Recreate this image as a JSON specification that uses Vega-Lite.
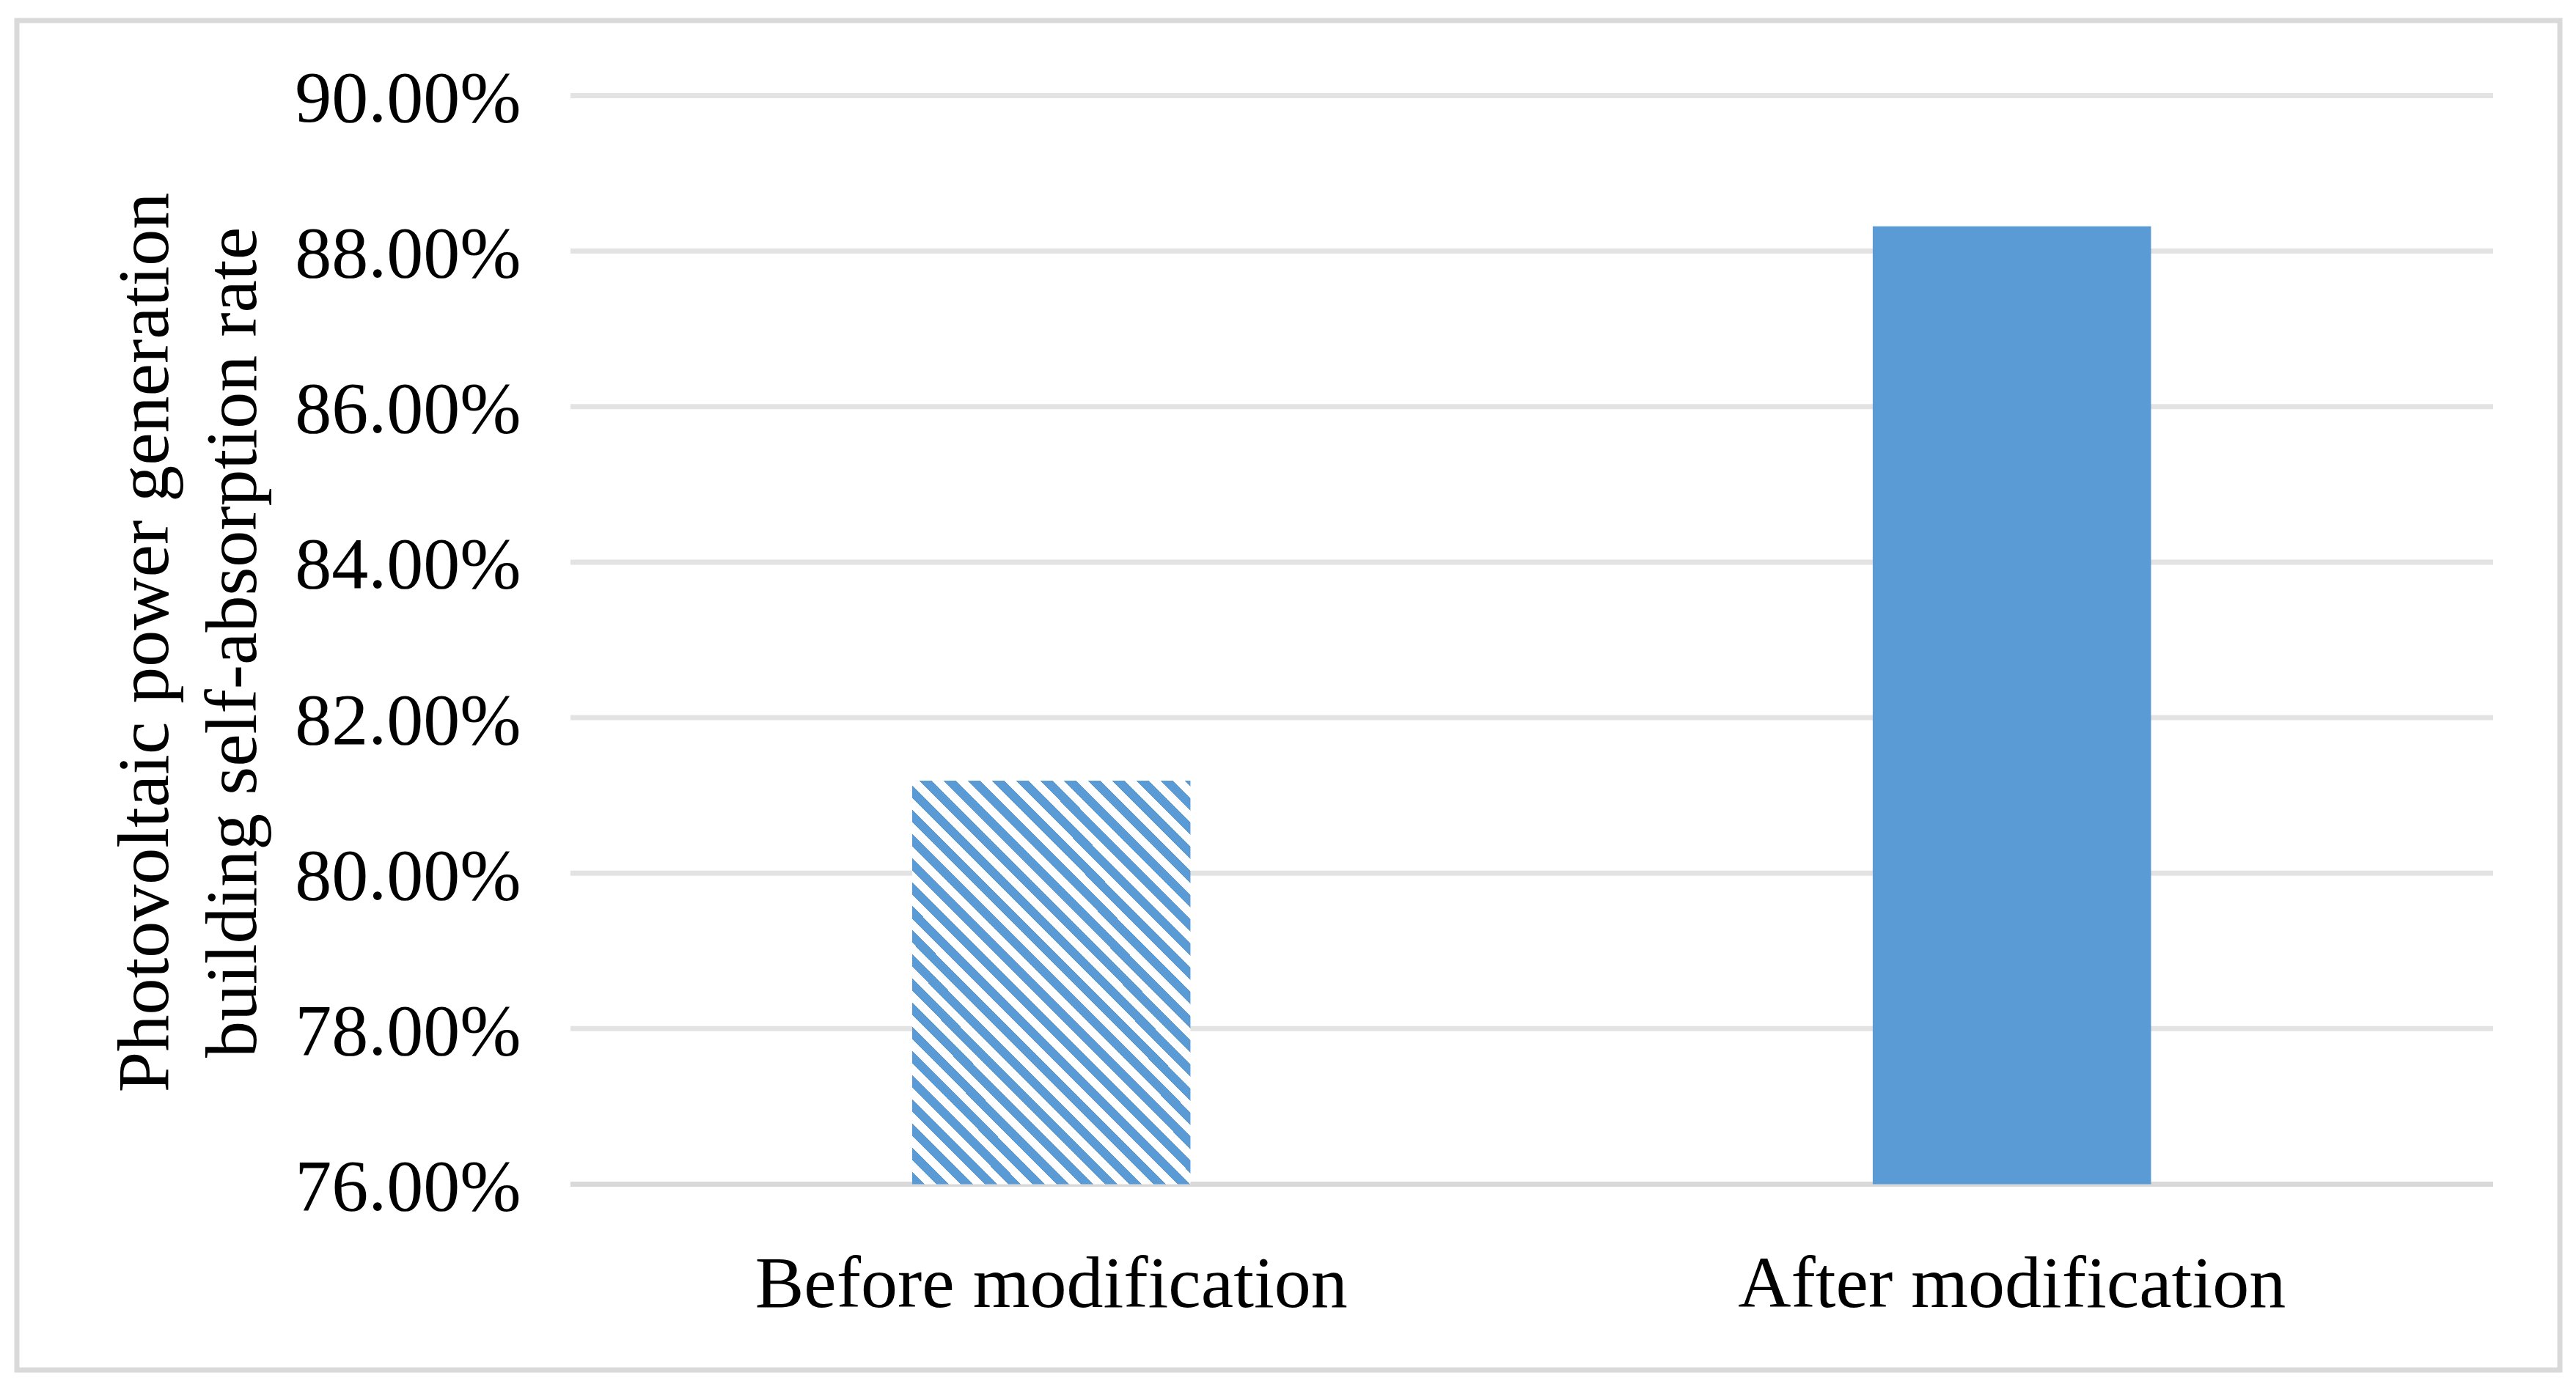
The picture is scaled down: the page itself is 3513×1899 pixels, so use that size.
{
  "$schema": "https://vega.github.io/schema/vega-lite/v6.json",
  "width": 3468,
  "height": 1841,
  "autosize": "none",
  "padding": {"left": 23, "top": 28, "right": 22, "bottom": 30},
  "background": "white",
  "config": {
    "view": {"stroke": "#d9d9d9", "strokeWidth": 7},
    "font": "Liberation Serif"
  },
  "datasets": {
    "bars": [
      {"phase": "Before modification", "rate": 0.8119},
      {"phase": "After modification", "rate": 0.8832}
    ],
    "grid": [
      {"rate": 0.78}, {"rate": 0.80}, {"rate": 0.82}, {"rate": 0.84}, {"rate": 0.86}, {"rate": 0.88}, {"rate": 0.90}
    ],
    "base": [{"rate": 0.76}]
  },
  "encoding": {
    "y": {
      "field": "rate", "type": "quantitative",
      "scale": {"domain": [0.7361, 0.90966], "nice": false, "zero": false},
      "axis": {
        "values": [0.76, 0.78, 0.80, 0.82, 0.84, 0.86, 0.88, 0.90],
        "format": ".2%", "grid": false, "domain": false, "ticks": false, "tickSize": 0,
        "labelPadding": 0, "offset": -687, "labelFont": "Liberation Serif", "labelFontSize": 100,
        "labelColor": "black", "labelBaseline": "middle", "labelOffset": 5, "labelFlush": false, "labelOverlap": false, "labelLimit": 0,
        "title": ["Photovoltaic power generation", "building self-absorption rate"],
        "titleFont": "Liberation Serif", "titleFontSize": 100, "titleFontWeight": "normal", "titleColor": "black",
        "titlePadding": 141, "titleLineHeight": 120, "titleY": 848, "titleLimit": 0
      }
    }
  },
  "resolve": {"scale": {"x": "independent"}, "axis": {"x": "independent"}},
  "layer": [
    {
      "layer": [
        {
          "data": {"name": "grid"},
          "mark": {"type": "rule", "color": "#e3e3e3", "strokeWidth": 7}
        },
        {
          "data": {"name": "base"},
          "mark": {"type": "rule", "color": "#d9d9d9", "strokeWidth": 7}
        }
      ],
      "encoding": {
        "x": {"datum": 0, "type": "quantitative", "scale": {"domain": [-0.28795, 1.03471], "nice": false, "zero": false}, "axis": null},
        "x2": {"datum": 1}
      }
    },
    {
      "data": {"name": "bars"},
      "encoding": {
        "x": {
          "field": "phase", "type": "nominal",
          "scale": {"type": "band", "domain": ["Before modification", "After modification"], "paddingInner": 0.7103, "paddingOuter": 0.6788, "align": 0.6865},
          "axis": {"title": null, "labelAngle": 0, "domain": false, "ticks": false, "tickSize": 0, "grid": false, "labelPadding": 87.5, "offset": -253.5, "labelFont": "Liberation Serif", "labelFontSize": 100, "labelColor": "black", "labelLimit": 0}
        },
        "y2": {"datum": 0.76}
      },
      "layer": [
        {
          "transform": [{"filter": "datum.phase === 'Before modification'"}],
          "mark": {
            "type": "bar",
            "fill": {
              "gradient": "linear",
              "x1": 0, "y1": 1, "x2": 1, "y2": -0.447,
              "stops": [
                {"offset": 0, "color": "#5b9bd5"}, {"offset": 0.0145, "color": "#5b9bd5"},
                {"offset": 0.0145, "color": "#ffffff"}, {"offset": 0.028, "color": "#ffffff"},
                {"offset": 0.028, "color": "#5b9bd5"}, {"offset": 0.0425, "color": "#5b9bd5"},
                {"offset": 0.0425, "color": "#ffffff"}, {"offset": 0.056, "color": "#ffffff"},
                {"offset": 0.056, "color": "#5b9bd5"}, {"offset": 0.0705, "color": "#5b9bd5"},
                {"offset": 0.0705, "color": "#ffffff"}, {"offset": 0.084, "color": "#ffffff"},
                {"offset": 0.084, "color": "#5b9bd5"}, {"offset": 0.0985, "color": "#5b9bd5"},
                {"offset": 0.0985, "color": "#ffffff"}, {"offset": 0.112, "color": "#ffffff"},
                {"offset": 0.112, "color": "#5b9bd5"}, {"offset": 0.1265, "color": "#5b9bd5"},
                {"offset": 0.1265, "color": "#ffffff"}, {"offset": 0.14, "color": "#ffffff"},
                {"offset": 0.14, "color": "#5b9bd5"}, {"offset": 0.1545, "color": "#5b9bd5"},
                {"offset": 0.1545, "color": "#ffffff"}, {"offset": 0.168, "color": "#ffffff"},
                {"offset": 0.168, "color": "#5b9bd5"}, {"offset": 0.1825, "color": "#5b9bd5"},
                {"offset": 0.1825, "color": "#ffffff"}, {"offset": 0.196, "color": "#ffffff"},
                {"offset": 0.196, "color": "#5b9bd5"}, {"offset": 0.2105, "color": "#5b9bd5"},
                {"offset": 0.2105, "color": "#ffffff"}, {"offset": 0.224, "color": "#ffffff"},
                {"offset": 0.224, "color": "#5b9bd5"}, {"offset": 0.2385, "color": "#5b9bd5"},
                {"offset": 0.2385, "color": "#ffffff"}, {"offset": 0.252, "color": "#ffffff"},
                {"offset": 0.252, "color": "#5b9bd5"}, {"offset": 0.2665, "color": "#5b9bd5"},
                {"offset": 0.2665, "color": "#ffffff"}, {"offset": 0.28, "color": "#ffffff"},
                {"offset": 0.28, "color": "#5b9bd5"}, {"offset": 0.2945, "color": "#5b9bd5"},
                {"offset": 0.2945, "color": "#ffffff"}, {"offset": 0.308, "color": "#ffffff"},
                {"offset": 0.308, "color": "#5b9bd5"}, {"offset": 0.3225, "color": "#5b9bd5"},
                {"offset": 0.3225, "color": "#ffffff"}, {"offset": 0.336, "color": "#ffffff"},
                {"offset": 0.336, "color": "#5b9bd5"}, {"offset": 0.3505, "color": "#5b9bd5"},
                {"offset": 0.3505, "color": "#ffffff"}, {"offset": 0.364, "color": "#ffffff"},
                {"offset": 0.364, "color": "#5b9bd5"}, {"offset": 0.3785, "color": "#5b9bd5"},
                {"offset": 0.3785, "color": "#ffffff"}, {"offset": 0.392, "color": "#ffffff"},
                {"offset": 0.392, "color": "#5b9bd5"}, {"offset": 0.4065, "color": "#5b9bd5"},
                {"offset": 0.4065, "color": "#ffffff"}, {"offset": 0.42, "color": "#ffffff"},
                {"offset": 0.42, "color": "#5b9bd5"}, {"offset": 0.4345, "color": "#5b9bd5"},
                {"offset": 0.4345, "color": "#ffffff"}, {"offset": 0.448, "color": "#ffffff"},
                {"offset": 0.448, "color": "#5b9bd5"}, {"offset": 0.4625, "color": "#5b9bd5"},
                {"offset": 0.4625, "color": "#ffffff"}, {"offset": 0.476, "color": "#ffffff"},
                {"offset": 0.476, "color": "#5b9bd5"}, {"offset": 0.4905, "color": "#5b9bd5"},
                {"offset": 0.4905, "color": "#ffffff"}, {"offset": 0.504, "color": "#ffffff"},
                {"offset": 0.504, "color": "#5b9bd5"}, {"offset": 0.5185, "color": "#5b9bd5"},
                {"offset": 0.5185, "color": "#ffffff"}, {"offset": 0.532, "color": "#ffffff"},
                {"offset": 0.532, "color": "#5b9bd5"}, {"offset": 0.5465, "color": "#5b9bd5"},
                {"offset": 0.5465, "color": "#ffffff"}, {"offset": 0.56, "color": "#ffffff"},
                {"offset": 0.56, "color": "#5b9bd5"}, {"offset": 0.5745, "color": "#5b9bd5"},
                {"offset": 0.5745, "color": "#ffffff"}, {"offset": 0.588, "color": "#ffffff"},
                {"offset": 0.588, "color": "#5b9bd5"}, {"offset": 0.6025, "color": "#5b9bd5"},
                {"offset": 0.6025, "color": "#ffffff"}, {"offset": 0.616, "color": "#ffffff"},
                {"offset": 0.616, "color": "#5b9bd5"}, {"offset": 0.6305, "color": "#5b9bd5"},
                {"offset": 0.6305, "color": "#ffffff"}, {"offset": 0.644, "color": "#ffffff"},
                {"offset": 0.644, "color": "#5b9bd5"}, {"offset": 0.6585, "color": "#5b9bd5"},
                {"offset": 0.6585, "color": "#ffffff"}, {"offset": 0.672, "color": "#ffffff"},
                {"offset": 0.672, "color": "#5b9bd5"}, {"offset": 0.6865, "color": "#5b9bd5"},
                {"offset": 0.6865, "color": "#ffffff"}, {"offset": 0.7, "color": "#ffffff"},
                {"offset": 0.7, "color": "#5b9bd5"}, {"offset": 0.7145, "color": "#5b9bd5"},
                {"offset": 0.7145, "color": "#ffffff"}, {"offset": 0.728, "color": "#ffffff"},
                {"offset": 0.728, "color": "#5b9bd5"}, {"offset": 0.7425, "color": "#5b9bd5"},
                {"offset": 0.7425, "color": "#ffffff"}, {"offset": 0.756, "color": "#ffffff"},
                {"offset": 0.756, "color": "#5b9bd5"}, {"offset": 0.7705, "color": "#5b9bd5"},
                {"offset": 0.7705, "color": "#ffffff"}, {"offset": 0.784, "color": "#ffffff"},
                {"offset": 0.784, "color": "#5b9bd5"}, {"offset": 0.7985, "color": "#5b9bd5"},
                {"offset": 0.7985, "color": "#ffffff"}, {"offset": 0.812, "color": "#ffffff"}
              ]
            }
          }
        },
        {
          "transform": [{"filter": "datum.phase === 'After modification'"}],
          "mark": {"type": "bar", "fill": "#5b9bd5"}
        }
      ]
    }
  ]
}
